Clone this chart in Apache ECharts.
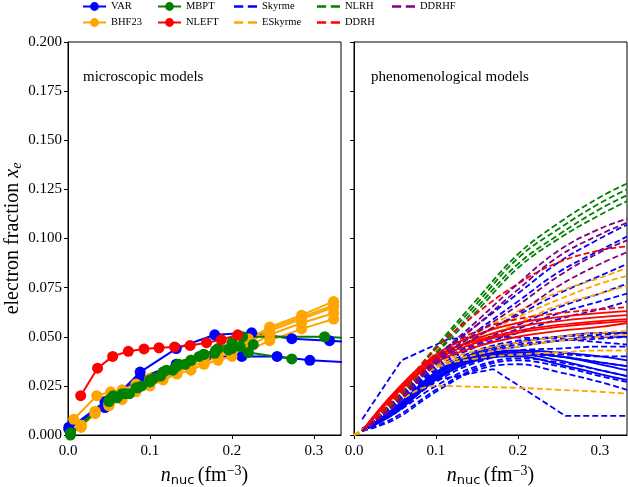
<html>
<head>
<meta charset="utf-8">
<script src="https://cdn.jsdelivr.net/npm/echarts@6/dist/echarts.min.js"></script>
<style>
  html, body { margin: 0; padding: 0; background: #fff; }
  #main { width: 628px; height: 487px; }
</style>
</head>
<body>
<div id="main"></div>
<script type="text/javascript">
// ---- microscopic models (left panel) ----
var varN = [
  [0.001, 0.045, 0.088, 0.132, 0.179, 0.224, 0.273, 0.319, 0.36],
  [0.001, 0.045, 0.088, 0.132, 0.168, 0.212, 0.255, 0.295, 0.36]
];
var varXe = [
  [0.004, 0.014, 0.032, 0.044, 0.051, 0.052, 0.049, 0.048, 0.047],
  [0.003, 0.017, 0.029, 0.036, 0.040, 0.040, 0.040, 0.038, 0.0365]
];
var bhfN = [
  [0.007, 0.035, 0.052, 0.066, 0.083, 0.1, 0.116, 0.133, 0.15, 0.166, 0.183, 0.2, 0.22, 0.246, 0.285, 0.324],
  [0.016, 0.033, 0.05, 0.066, 0.083, 0.1, 0.116, 0.133, 0.15, 0.166, 0.183, 0.2, 0.22, 0.246, 0.285, 0.324],
  [0.016, 0.033, 0.05, 0.066, 0.083, 0.1, 0.116, 0.133, 0.15, 0.166, 0.183, 0.2, 0.22, 0.246, 0.285, 0.324],
  [0.016, 0.033, 0.05, 0.066, 0.083, 0.1, 0.116, 0.133, 0.15, 0.166, 0.183, 0.2, 0.22, 0.246, 0.285, 0.324],
  [0.016, 0.033, 0.05, 0.066, 0.083, 0.1, 0.116, 0.133, 0.15, 0.166, 0.183, 0.2, 0.22, 0.246, 0.285, 0.324]
];
var bhfXe = [
  [0.008, 0.020, 0.022, 0.023, 0.026, 0.029, 0.032, 0.035, 0.038, 0.041, 0.044, 0.046, 0.049, 0.054, 0.060, 0.066],
  [0.005, 0.012, 0.016, 0.020, 0.024, 0.028, 0.031, 0.034, 0.037, 0.040, 0.043, 0.045, 0.048, 0.055, 0.061, 0.068],
  [0.005, 0.012, 0.016, 0.020, 0.023, 0.027, 0.030, 0.033, 0.036, 0.039, 0.041, 0.044, 0.047, 0.053, 0.059, 0.065],
  [0.004, 0.011, 0.015, 0.019, 0.023, 0.026, 0.029, 0.032, 0.035, 0.037, 0.040, 0.042, 0.045, 0.051, 0.057, 0.062],
  [0.004, 0.011, 0.015, 0.018, 0.022, 0.025, 0.028, 0.031, 0.033, 0.036, 0.038, 0.040, 0.043, 0.048, 0.054, 0.059]
];
var mbptN = [
  [0.003, 0.05, 0.066, 0.083, 0.1, 0.116, 0.133, 0.15, 0.166, 0.183, 0.2, 0.213, 0.313, 0.36],
  [0.003, 0.055, 0.07, 0.085, 0.1, 0.113, 0.128, 0.143, 0.16, 0.179, 0.196, 0.21, 0.22, 0.273],
  [0.003, 0.05, 0.06, 0.075, 0.09, 0.105, 0.12, 0.135, 0.15, 0.165, 0.18, 0.2, 0.226]
];
var mbptXe = [
  [0.001, 0.018, 0.021, 0.024, 0.028, 0.032, 0.035, 0.038, 0.041, 0.044, 0.047, 0.050, 0.050, 0.049],
  [0.000, 0.020, 0.021, 0.024, 0.027, 0.030, 0.033, 0.036, 0.040, 0.0416, 0.0433, 0.045, 0.042, 0.0387],
  [0.001, 0.017, 0.019, 0.021, 0.025, 0.029, 0.033, 0.036, 0.038, 0.041, 0.043, 0.044, 0.046]
];
var nleftN = [0.0155, 0.036, 0.0545, 0.0736, 0.0927, 0.111, 0.130, 0.149, 0.169, 0.187, 0.207];
var nleftXe = [0.020, 0.034, 0.040, 0.0426, 0.0438, 0.0444, 0.0448, 0.0456, 0.047, 0.0485, 0.051];

// ---- phenomenological models (right panel) ----
var phenoN = [0.01, 0.05, 0.1, 0.15, 0.2, 0.25, 0.3, 0.333];
var skyrmeXe = [
  [0.003, 0.018, 0.040, 0.056, 0.072, 0.088, 0.100, 0.107],
  [0.003, 0.017, 0.038, 0.053, 0.068, 0.083, 0.094, 0.101],
  [0.003, 0.016, 0.037, 0.050, 0.061, 0.072, 0.081, 0.087],
  [0.003, 0.016, 0.036, 0.047, 0.056, 0.065, 0.072, 0.077],
  [0.003, 0.015, 0.035, 0.046, 0.054, 0.062, 0.068, 0.072],
  [0.003, 0.015, 0.034, 0.045, 0.052, 0.059, 0.064, 0.068],
  [0.003, 0.014, 0.033, 0.043, 0.048, 0.050, 0.051, 0.052],
  [0.003, 0.013, 0.031, 0.041, 0.046, 0.048, 0.049, 0.050],
  [0.003, 0.012, 0.029, 0.039, 0.043, 0.044, 0.045, 0.045],
  [0.003, 0.012, 0.028, 0.038, 0.041, 0.041, 0.040, 0.040],
  [0.002, 0.012, 0.027, 0.037, 0.041, 0.040, 0.037, 0.035],
  [0.002, 0.011, 0.025, 0.035, 0.039, 0.037, 0.033, 0.030],
  [0.002, 0.009, 0.023, 0.034, 0.038, 0.035, 0.030, 0.027],
  [0.002, 0.008, 0.022, 0.033, 0.036, 0.032, 0.027, 0.023]
];
// two Skyrme sets given on coarse grids (drawn as polylines)
var skyrmeOddN = [
  [0.01, 0.058, 0.116, 0.17, 0.25, 0.333],
  [0.01, 0.05, 0.1, 0.17, 0.258, 0.333]
];
var skyrmeOddXe = [
  [0.008, 0.038, 0.049, 0.050, 0.049, 0.046],
  [0.002, 0.012, 0.028, 0.0335, 0.0097, 0.0097]
];
var skyrmeSolidXe = [
  [0.002, 0.014, 0.032, 0.042, 0.047, 0.050, 0.052, 0.052],
  [0.002, 0.013, 0.031, 0.041, 0.045, 0.048, 0.050, 0.050],
  [0.002, 0.013, 0.031, 0.040, 0.042, 0.040, 0.037, 0.035],
  [0.002, 0.013, 0.030, 0.040, 0.043, 0.042, 0.040, 0.038],
  [0.002, 0.012, 0.029, 0.039, 0.042, 0.040, 0.036, 0.033],
  [0.002, 0.012, 0.029, 0.039, 0.041, 0.038, 0.033, 0.030],
  [0.002, 0.011, 0.028, 0.038, 0.040, 0.036, 0.031, 0.028]
];
var eskyrmeN = [0.0, 0.02, 0.05, 0.1, 0.15, 0.2, 0.25, 0.3, 0.333];
var eskyrmeXe = [
  [0.0, 0.005, 0.020, 0.040, 0.052, 0.063, 0.073, 0.080, 0.085],
  [0.0, 0.005, 0.020, 0.039, 0.050, 0.060, 0.069, 0.077, 0.081],
  [0.0, 0.005, 0.019, 0.038, 0.048, 0.057, 0.066, 0.072, 0.076],
  [0.0, 0.006, 0.020, 0.036, 0.043, 0.047, 0.050, 0.052, 0.053],
  [0.0, 0.006, 0.021, 0.035, 0.041, 0.045, 0.048, 0.050, 0.051],
  [0.0, 0.005, 0.019, 0.034, 0.039, 0.041, 0.042, 0.043, 0.043],
  [0.0, 0.006, 0.016, 0.025, 0.0245, 0.024, 0.023, 0.022, 0.021]
];
var nlrhXe = [
  [0.002, 0.020, 0.045, 0.069, 0.092, 0.108, 0.121, 0.128],
  [0.002, 0.019, 0.044, 0.067, 0.090, 0.105, 0.118, 0.125],
  [0.002, 0.018, 0.042, 0.065, 0.087, 0.102, 0.115, 0.122],
  [0.002, 0.017, 0.041, 0.063, 0.085, 0.100, 0.112, 0.119]
];
var ddrhXe = [
  [0.002, 0.019, 0.044, 0.062, 0.077, 0.088, 0.094, 0.096],
  [0.002, 0.018, 0.040, 0.053, 0.059, 0.062, 0.064, 0.065]
];
var ddrhSolidXe = [
  [0.002, 0.022, 0.041, 0.051, 0.057, 0.060, 0.062, 0.063],
  [0.002, 0.021, 0.039, 0.049, 0.055, 0.058, 0.060, 0.061],
  [0.002, 0.022, 0.040, 0.048, 0.053, 0.056, 0.058, 0.059],
  [0.002, 0.020, 0.038, 0.047, 0.052, 0.055, 0.057, 0.058],
  [0.002, 0.021, 0.037, 0.045, 0.050, 0.053, 0.055, 0.057]
];
var ddrhfXe = [
  [0.002, 0.016, 0.039, 0.058, 0.077, 0.094, 0.105, 0.110],
  [0.002, 0.016, 0.038, 0.056, 0.074, 0.091, 0.102, 0.108],
  [0.002, 0.015, 0.037, 0.052, 0.066, 0.081, 0.093, 0.099],
  [0.002, 0.015, 0.036, 0.050, 0.062, 0.076, 0.087, 0.093]
];

var yTicks = { min: 0, max: 0.2, interval: 0.025 };
var xTicks = { min: 0, max: 0.333, interval: 0.1 };

var SERIF = 'Liberation Serif';
var C = { blue: '#0000ff', orange: '#ffa500', green: '#008000', red: '#ff0000', purple: '#800080' };
// dashed-line legend icon (two dashes)
var DASH_ICON = 'path://M0,0H8V2.2H0Z M12,0H20V2.2H12Z';

function pairs(ns, xs) {
  return ns.map(function (n, i) { return [n, xs[i]]; });
}

var series = [];

function addMicro(name, color, ns, xs) {
  series.push({
    type: 'line', name: name, xAxisIndex: 0, yAxisIndex: 0,
    data: pairs(ns, xs), symbol: 'circle', symbolSize: 11,
    lineStyle: { color: color, width: 2 }, itemStyle: { color: color },
    clip: true
  });
}
function addPheno(name, color, ns, xs, dashed, smooth) {
  series.push({
    type: 'line', name: name, xAxisIndex: 1, yAxisIndex: 1,
    data: pairs(ns, xs), symbol: 'none', smooth: smooth ? 0.4 : false,
    lineStyle: { color: color, width: 1.8, type: dashed ? [6, 3] : 'solid' },
    itemStyle: { color: color },
    clip: true
  });
}

varN.forEach(function (n, i) { addMicro('VAR', C.blue, n, varXe[i]); });
bhfN.forEach(function (n, i) { addMicro('BHF23', C.orange, n, bhfXe[i]); });
mbptN.forEach(function (n, i) { addMicro('MBPT', C.green, n, mbptXe[i]); });
addMicro('NLEFT', C.red, nleftN, nleftXe);

skyrmeXe.forEach(function (x) { addPheno('Skyrme', C.blue, phenoN, x, true, true); });
skyrmeOddN.forEach(function (n, i) { addPheno('Skyrme', C.blue, n, skyrmeOddXe[i], true, false); });
skyrmeSolidXe.forEach(function (x) { addPheno('Skyrme (solid)', C.blue, phenoN, x, false, true); });
eskyrmeXe.forEach(function (x) { addPheno('ESkyrme', C.orange, eskyrmeN, x, true, true); });
nlrhXe.forEach(function (x) { addPheno('NLRH', C.green, phenoN, x, true, true); });
ddrhXe.forEach(function (x) { addPheno('DDRH', C.red, phenoN, x, true, true); });
ddrhSolidXe.forEach(function (x) { addPheno('DDRH (solid)', C.red, phenoN, x, false, true); });
ddrhfXe.forEach(function (x) { addPheno('DDRHF', C.purple, phenoN, x, true, true); });

function legendCol(left, names, dashed) {
  return {
    data: names.map(function (nm) { return dashed ? { name: nm, icon: DASH_ICON } : nm; }),
    orient: 'vertical', left: left, top: 1,
    itemWidth: 23, itemHeight: 11, itemGap: 5, padding: 0, symbolKeepAspect: true,
    textStyle: { fontFamily: SERIF, fontSize: 10.5, color: '#000' },
    selectedMode: false
  };
}

var xName = '{i|n}{sub|nuc} {r|(fm}{sup|−3}{r|)}';
var nameRich = {
  i: { fontFamily: SERIF, fontStyle: 'italic', fontSize: 20, color: '#000' },
  r: { fontFamily: SERIF, fontSize: 20, color: '#000' },
  sub: { fontFamily: 'DejaVu Sans', fontSize: 13, color: '#000', lineHeight: 14, padding: [10, 0, 0, 0] },
  sup: { fontFamily: SERIF, fontSize: 14, color: '#000', lineHeight: 14, padding: [0, 0, 10, 0] },
  e: { fontFamily: SERIF, fontStyle: 'italic', fontSize: 14, color: '#000', lineHeight: 14, padding: [10, 0, 0, 0] }
};

function xAxis(idx) {
  return {
    type: 'value', gridIndex: idx, min: xTicks.min, max: xTicks.max, interval: xTicks.interval,
    name: xName, nameLocation: 'middle', nameGap: 29,
    nameTextStyle: { rich: nameRich },
    axisLine: { show: true, onZero: false, lineStyle: { color: '#000', width: 1 } },
    axisTick: { show: true, length: 4, lineStyle: { color: '#000' } },
    axisLabel: { fontFamily: SERIF, fontSize: 15, color: '#000', margin: 9, showMaxLabel: false,
      formatter: function (v) { return v.toFixed(1); } },
    splitLine: { show: false }
  };
}
function yAxis(idx, labels) {
  var a = {
    type: 'value', gridIndex: idx, min: yTicks.min, max: yTicks.max, interval: yTicks.interval,
    axisLine: { show: true, lineStyle: { color: '#000', width: 1 } },
    axisTick: { show: true, length: 4, lineStyle: { color: '#000' } },
    axisLabel: { show: labels, fontFamily: SERIF, fontSize: 15, color: '#000', margin: 6,
      formatter: function (v) { return v.toFixed(3); } },
    splitLine: { show: false }
  };
  if (labels) {
    a.name = 'electron fraction {i|x}{e|e}';
    a.nameLocation = 'middle';
    a.nameGap = 44;
    a.nameTextStyle = { fontFamily: SERIF, fontSize: 20, color: '#000', rich: nameRich };
  }
  return a;
}

var gridBase = { top: 42, width: 273, height: 393, show: true, borderColor: '#000', borderWidth: 1,
  backgroundColor: 'transparent', containLabel: false, outerBoundsMode: 'none' };

var myChart = echarts.init(document.getElementById('main'), null, { renderer: 'canvas' });
myChart.setOption({
  animation: false,
  backgroundColor: '#fff',
  legend: [
    legendCol(82, ['VAR', 'BHF23'], false),
    legendCol(157, ['MBPT', 'NLEFT'], false),
    legendCol(234, ['Skyrme', 'ESkyrme'], true),
    legendCol(317, ['NLRH', 'DDRH'], true),
    legendCol(392, ['DDRHF'], true)
  ],
  grid: [
    Object.assign({ left: 68 }, gridBase),
    Object.assign({ left: 354 }, gridBase)
  ],
  xAxis: [xAxis(0), xAxis(1)],
  yAxis: [yAxis(0, true), yAxis(1, false)],
  graphic: [
    { type: 'text', left: 83, top: 70, style: { text: 'microscopic models', font: '15px "Liberation Serif"', fill: '#000' } },
    { type: 'text', left: 371, top: 70, style: { text: 'phenomenological models', font: '15px "Liberation Serif"', fill: '#000' } }
  ],
  series: series
});
</script>
</body>
</html>
